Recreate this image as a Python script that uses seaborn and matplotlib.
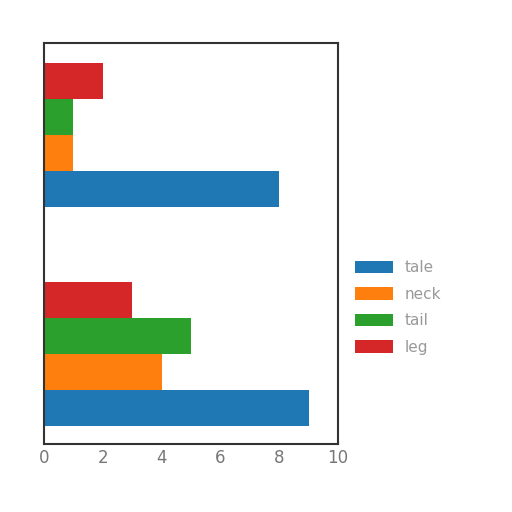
import matplotlib
matplotlib.use("Agg")
import matplotlib.pyplot as plt
import seaborn as sns
import pandas as pd

categories = ["a", "b"]
series_names = ["tale", "neck", "tail", "leg"]
values = {
    "tale": [9, 8],
    "neck": [4, 1],
    "tail": [5, 1],
    "leg": [3, 2],
}
colors = ["#1f77b4", "#ff7f0e", "#2ca02c", "#d62728"]
xticks = [0, 2, 4, 6, 8, 10]

rows = []
for s in series_names:
    for c, v in zip(categories, values[s]):
        rows.append({"cat": c, "series": s, "value": v})
df = pd.DataFrame(rows)

sns.set_style("white")
fig = plt.figure(figsize=(5.12, 5.12), dpi=100)
ax = fig.add_axes([0.086, 0.133, 0.574, 0.783])
sns.barplot(data=df, x="value", y="cat", hue="series", order=categories,
            hue_order=series_names, palette=colors, orient="h", width=0.66,
            saturation=1, linewidth=0, ax=ax)
ax.set_ylim(-0.41, 1.42)
ax.set_xlim(0, 10)
ax.set_xticks(xticks)
ax.set_yticks([])
ax.set_xlabel("")
ax.set_ylabel("")
ax.tick_params(axis="x", labelsize=12, labelcolor="#777777", length=0, pad=4)
for sp in ax.spines.values():
    sp.set_color("#333333")
    sp.set_linewidth(1.5)
ax.legend(loc="center left", bbox_to_anchor=(1.01, 0.34), frameon=False,
          fontsize=11, labelcolor="#999999", handlelength=2.5,
          handleheight=0.9, labelspacing=0.75)
fig.savefig("out.png", dpi=100)
